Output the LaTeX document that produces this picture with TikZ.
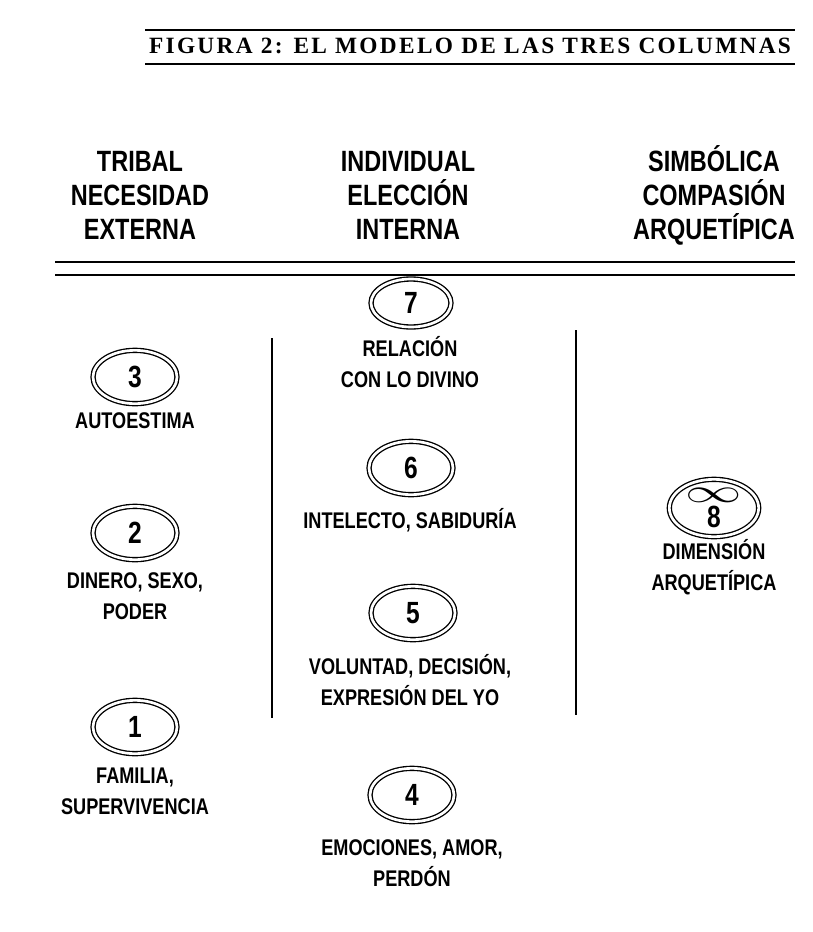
\documentclass[tikz,border=0pt]{standalone}
\usepackage{fontspec}
\setmainfont{Liberation Sans}[FakeStretch=0.8]
\newfontfamily\titlefont{Liberation Serif}[LetterSpace=10]
\usetikzlibrary{shapes.geometric}
\tikzset{
	chakra/.style={ellipse, draw, double, double distance=2pt, line width=1pt, minimum width=63pt, minimum height=40pt, inner sep=0pt, font=\bfseries\fontsize{23}{23}\selectfont},
	lbl/.style={align=center, inner sep=0.75pt, font=\bfseries\fontsize{17}{23}\selectfont},
	head/.style={align=center, inner sep=0.75pt, font=\bfseries\fontsize{22}{25.5}\selectfont},
	rule/.style={line width=1.5pt}
}
\begin{document}
\begin{tikzpicture}[x=0.75pt,y=0.75pt,yscale=-1,xscale=1]
	\path (0,0) rectangle (813,932); %frame of the page
	
	%Title and its lines
	\draw [rule] (145,30) -- (795,30) ;
	\draw [rule] (145,64) -- (795,64) ;
	\draw (470,46) node [inner sep=0.75pt] (title) {\titlefont\bfseries\fontsize{17.5}{18}\selectfont FIGURA 2: EL MODELO DE LAS TRES COLUMNAS};
	
	% Column heads
	\draw (140,195) node [head] (tribal) {TRIBAL\\NECESIDAD\\EXTERNA};
	\draw (408,195) node [head] (individual) {INDIVIDUAL\\ELECCIÓN\\INTERNA};
	\draw (714,195) node [head] (simbolica) {SIMBÓLICA\\COMPASIÓN\\ARQUETÍPICA};
	
	%Double line under heads
	\draw [rule] (55,262) -- (795,262) ;
	\draw [rule] (55,275) -- (795,275) ;
	
	%Column separators
	\draw [line width=2.2pt] (272,338) -- (272,718) ;
	\draw [line width=2.2pt] (576,330) -- (576,715) ;
	
	% Tribal column
	\draw (135,377) node [chakra] (c3) {3};
	\draw (135,421) node [lbl] (t3) {AUTOESTIMA};
	\draw (135,533) node [chakra] (c2) {2};
	\draw (135,596) node [lbl] (t2) {DINERO, SEXO,\\PODER};
	\draw (135,727) node [chakra] (c1) {1};
	\draw (135,791) node [lbl] (t1) {FAMILIA,\\SUPERVIVENCIA};
	
	% Individual column
	\draw (411,303) node [chakra, minimum width=60pt, minimum height=36pt] (c7) {7};
	\draw (410,362) node [lbl] (t7) {RELACIÓN\\CON LO DIVINO};
	\draw (411,468) node [chakra] (c6) {6};
	\draw (410,520) node [lbl] (t6) {INTELECTO, SABIDURÍA};
	\draw (413,613) node [chakra] (c5) {5};
	\draw (410,680) node [lbl] (t5) {VOLUNTAD, DECISIÓN,\\EXPRESIÓN DEL YO};
	\draw (412,795) node [chakra] (c4) {4};
	\draw (412,863) node [lbl] (t4) {EMOCIONES, AMOR,\\PERDÓN};
	
	% Symbolic column
	\draw (714,508) node [chakra, minimum width=67pt, minimum height=43pt] (c8) {\shortstack{\normalfont\scalebox{1.7}[1]{$\infty$}\\[0pt]8}};
	\draw (714,567) node [lbl] (t8) {DIMENSIÓN\\ARQUETÍPICA};
\end{tikzpicture}
\end{document}
